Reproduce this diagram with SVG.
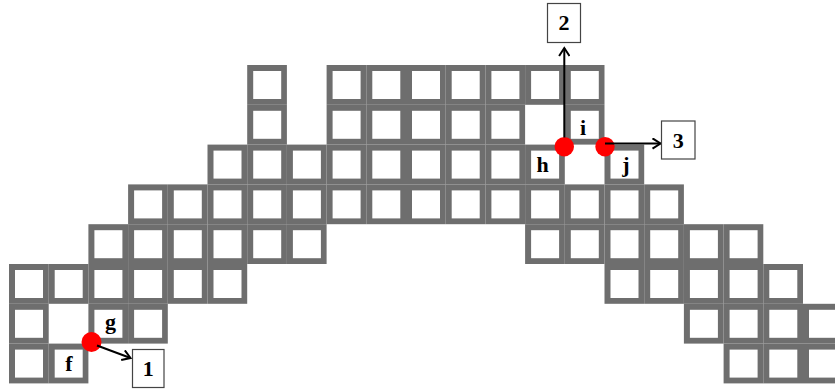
<svg xmlns="http://www.w3.org/2000/svg" xmlns:xlink="http://www.w3.org/1999/xlink" width="835" height="391" viewBox="0 0 835 391">
<style>
.g{fill:#6e6e6e}
.w{fill:#ffffff}
.lbl{font-family:"Liberation Serif","Times New Roman",serif;font-weight:bold;font-size:22px;fill:#000;text-anchor:middle}
.box{fill:#fff;stroke:#444;stroke-width:1.2}
.dot{fill:#ff0000}
.arr{stroke:#000;stroke-width:2;fill:none;marker-end:url(#ah)}
</style>
<defs>
<g id="c"><rect class="g" width="39.7" height="39.8"/><rect class="w" x="6" y="6" width="28" height="28"/></g>
<marker id="ah" markerUnits="userSpaceOnUse" viewBox="0 0 12 12" markerWidth="12" markerHeight="12" refX="10" refY="6" orient="auto">
<path d="M2,0.8 L10,6 L2,11.2" fill="none" stroke="#000" stroke-width="2"/>
</marker>
</defs>
<rect width="835" height="391" fill="#fff"/>
<g id="grid">
<!-- row 0 -->
<use href="#c" x="247.2" y="65"/>
<use href="#c" x="326.6" y="65"/><use href="#c" x="366.3" y="65"/><use href="#c" x="406" y="65"/><use href="#c" x="445.7" y="65"/><use href="#c" x="485.4" y="65"/><use href="#c" x="525.1" y="65"/><use href="#c" x="564.8" y="65"/>
<!-- row 1 -->
<use href="#c" x="247.2" y="104.8"/>
<use href="#c" x="326.6" y="104.8"/><use href="#c" x="366.3" y="104.8"/><use href="#c" x="406" y="104.8"/><use href="#c" x="445.7" y="104.8"/><use href="#c" x="485.4" y="104.8"/><use href="#c" x="564.8" y="104.8"/>
<!-- row 2 -->
<use href="#c" x="207.5" y="144.6"/><use href="#c" x="247.2" y="144.6"/><use href="#c" x="286.9" y="144.6"/><use href="#c" x="326.6" y="144.6"/><use href="#c" x="366.3" y="144.6"/><use href="#c" x="406" y="144.6"/><use href="#c" x="445.7" y="144.6"/><use href="#c" x="485.4" y="144.6"/><use href="#c" x="525.1" y="144.6"/><use href="#c" x="604.5" y="144.6"/>
<!-- row 3 -->
<use href="#c" x="128.1" y="184.4"/><use href="#c" x="167.8" y="184.4"/><use href="#c" x="207.5" y="184.4"/><use href="#c" x="247.2" y="184.4"/><use href="#c" x="286.9" y="184.4"/><use href="#c" x="326.6" y="184.4"/><use href="#c" x="366.3" y="184.4"/><use href="#c" x="406" y="184.4"/><use href="#c" x="445.7" y="184.4"/><use href="#c" x="485.4" y="184.4"/><use href="#c" x="525.1" y="184.4"/><use href="#c" x="564.8" y="184.4"/><use href="#c" x="604.5" y="184.4"/><use href="#c" x="644.2" y="184.4"/>
<!-- row 4 -->
<use href="#c" x="88.4" y="224.2"/><use href="#c" x="128.1" y="224.2"/><use href="#c" x="167.8" y="224.2"/><use href="#c" x="207.5" y="224.2"/><use href="#c" x="247.2" y="224.2"/><use href="#c" x="286.9" y="224.2"/>
<use href="#c" x="525.1" y="224.2"/><use href="#c" x="564.8" y="224.2"/><use href="#c" x="604.5" y="224.2"/><use href="#c" x="644.2" y="224.2"/><use href="#c" x="683.9" y="224.2"/><use href="#c" x="723.6" y="224.2"/>
<!-- row 5 -->
<use href="#c" x="9" y="264"/><use href="#c" x="48.7" y="264"/><use href="#c" x="88.4" y="264"/><use href="#c" x="128.1" y="264"/><use href="#c" x="167.8" y="264"/><use href="#c" x="207.5" y="264"/>
<use href="#c" x="604.5" y="264"/><use href="#c" x="644.2" y="264"/><use href="#c" x="683.9" y="264"/><use href="#c" x="723.6" y="264"/><use href="#c" x="763.3" y="264"/>
<!-- row 6 -->
<use href="#c" x="9" y="303.8"/><use href="#c" x="88.4" y="303.8"/><use href="#c" x="128.1" y="303.8"/>
<use href="#c" x="683.9" y="303.8"/><use href="#c" x="723.6" y="303.8"/><use href="#c" x="763.3" y="303.8"/><use href="#c" x="803" y="303.8"/>
<!-- row 7 -->
<use href="#c" x="9" y="343.6"/><use href="#c" x="48.7" y="343.6"/>
<use href="#c" x="723.6" y="343.6"/><use href="#c" x="763.3" y="343.6"/><use href="#c" x="803" y="343.6"/>
</g>
<g id="cell-labels">
<text class="lbl" x="69" y="371">f</text>
<text class="lbl" x="110.5" y="329">g</text>
<text class="lbl" x="542.5" y="171.5">h</text>
<text class="lbl" x="583" y="135">i</text>
<text class="lbl" x="626" y="172">j</text>
</g>
<g id="points">
<circle class="dot" cx="91.5" cy="342" r="10"/>
<circle class="dot" cx="564.3" cy="146.7" r="9.7"/>
<circle class="dot" cx="605" cy="146.7" r="9.7"/>
</g>
<g id="connectors">
<line class="arr" x1="97" y1="345.5" x2="130.5" y2="358"/>
<line class="arr" x1="564.3" y1="137.5" x2="564.3" y2="48"/>
<line class="arr" x1="605" y1="143.5" x2="660.5" y2="143.5"/>
</g>
<g id="box1"><rect class="box" x="132.5" y="349.5" width="31.5" height="38"/><text class="lbl" x="148.3" y="376">1</text></g>
<g id="box2"><rect class="box" x="547.5" y="3.5" width="33" height="39"/><text class="lbl" x="564" y="30">2</text></g>
<g id="box3"><rect class="box" x="661.5" y="121" width="33.5" height="38"/><text class="lbl" x="678.2" y="148">3</text></g>
</svg>
